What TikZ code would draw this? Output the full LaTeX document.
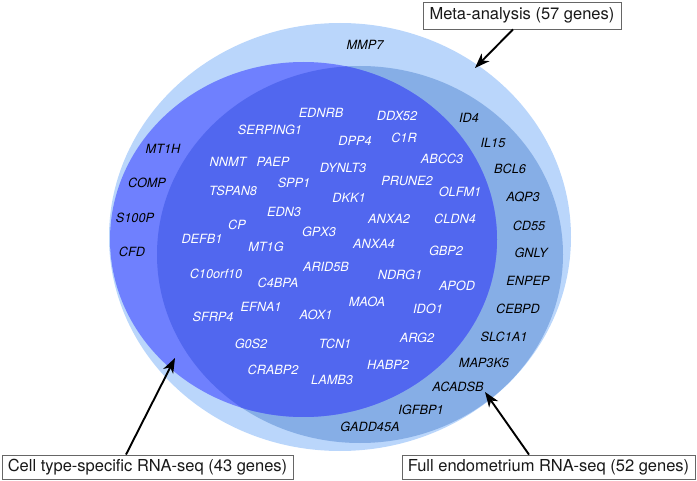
\documentclass[tikz,border=0pt]{standalone}
\usepackage{fontspec}
\setmainfont{TeX Gyre Heros}
\usetikzlibrary{arrows.meta}
\definecolor{lightb}{HTML}{BAD6FB}
\definecolor{medb}{HTML}{86AEE6}
\definecolor{purb}{HTML}{6F80FE}
\definecolor{darkb}{HTML}{5167EF}
\begin{document}
\begin{tikzpicture}[x=1pt,y=-1pt,
  gene/.style={font=\fontsize{12.7}{14}\selectfont\itshape, inner sep=0pt, text height=9.1pt, text depth=0pt},
  wg/.style={gene, text=white},
  kg/.style={gene, text=black},
  lab/.style={draw=black!60, line width=0.8pt, fill=white, font=\fontsize{16.5}{18}\selectfont, inner sep=0pt, text=black!90},
  arr/.style={-{Stealth[length=15pt,width=11pt,inset=4.5pt]}, line width=1.9pt}]
\useasboundingbox (0,0) rectangle (697,481);
% sets
\fill[lightb] (340,237) ellipse [x radius=231pt, y radius=214pt];
\fill[medb] (360,254.5) ellipse [x radius=203pt, y radius=188.5pt];
\fill[purb] (303.5,239.5) ellipse [x radius=193.5pt, y radius=177.5pt];
\begin{scope}
  \clip (360,254.5) ellipse [x radius=203pt, y radius=188.5pt];
  \fill[darkb] (303.5,239.5) ellipse [x radius=193.5pt, y radius=177.5pt];
\end{scope}
% black genes
\node[kg] (g1) at (365,45) {MMP7};
\node[kg] (g2) at (163,149) {MT1H};
\node[kg] (g3) at (147,183) {COMP};
\node[kg] (g4) at (135,218) {S100P};
\node[kg] (g5) at (132,252) {CFD};
\node[kg] (g6) at (469,118) {ID4};
\node[kg] (g7) at (493,143) {IL15};
\node[kg] (g8) at (510,169) {BCL6};
\node[kg] (g9) at (523,197) {AQP3};
\node[kg] (g10) at (529,226) {CD55};
\node[kg] (g11) at (531,253) {GNLY};
\node[kg] (g12) at (528,281) {ENPEP};
\node[kg] (g13) at (518,309) {CEBPD};
\node[kg] (g14) at (504,337) {SLC1A1};
\node[kg] (g15) at (484,363) {MAP3K5};
\node[kg] (g16) at (458,387) {ACADSB};
\node[kg] (g17) at (421,410) {IGFBP1};
\node[kg] (g18) at (370,427) {GADD45A};
% white genes
\node[wg] (w1) at (321,113) {EDNRB};
\node[wg] (w2) at (397,116) {DDX52};
\node[wg] (w3) at (270,130) {SERPING1};
\node[wg] (w4) at (404,138) {C1R};
\node[wg] (w5) at (355,141) {DPP4};
\node[wg] (w6) at (442,159) {ABCC3};
\node[wg] (w7) at (228,162) {NNMT};
\node[wg] (w8) at (273,162) {PAEP};
\node[wg] (w9) at (343,168) {DYNLT3};
\node[wg] (w10) at (407,181) {PRUNE2};
\node[wg] (w11) at (294,183) {SPP1};
\node[wg] (w12) at (233,191) {TSPAN8};
\node[wg] (w13) at (460,192) {OLFM1};
\node[wg] (w14) at (349,198) {DKK1};
\node[wg] (w15) at (284,212) {EDN3};
\node[wg] (w16) at (389,219) {ANXA2};
\node[wg] (w17) at (455,219) {CLDN4};
\node[wg] (w18) at (237,225) {CP};
\node[wg] (w19) at (319,232) {GPX3};
\node[wg] (w20) at (202,239) {DEFB1};
\node[wg] (w21) at (374,244) {ANXA4};
\node[wg] (w22) at (266,247) {MT1G};
\node[wg] (w23) at (446,251) {GBP2};
\node[wg] (w24) at (326,267) {ARID5B};
\node[wg] (w25) at (216,274) {C10orf10};
\node[wg] (w26) at (400,275) {NDRG1};
\node[wg] (w27) at (278,283) {C4BPA};
\node[wg] (w28) at (457,286) {APOD};
\node[wg] (w29) at (367,302) {MAOA};
\node[wg] (w30) at (261,307) {EFNA1};
\node[wg] (w31) at (428,309) {IDO1};
\node[wg] (w32) at (316,315) {AOX1};
\node[wg] (w33) at (213,317) {SFRP4};
\node[wg] (w34) at (417,338) {ARG2};
\node[wg] (w35) at (251,344) {G0S2};
\node[wg] (w36) at (335,344) {TCN1};
\node[wg] (w37) at (388,365) {HABP2};
\node[wg] (w38) at (273,370) {CRABP2};
\node[wg] (w39) at (332,380) {LAMB3};
% labels
\node[lab, minimum width=198pt, minimum height=27pt] (meta) at (522,15.5) {Meta-analysis (57 genes)};
\node[lab, minimum width=291pt, minimum height=24pt] (cell) at (147.5,467) {Cell type-specific RNA-seq (43 genes)};
\node[lab, minimum width=293pt, minimum height=24pt] (full) at (548.5,467) {Full endometrium RNA-seq (52 genes)};
\coordinate (mtip) at (475,68);
\coordinate (ctip) at (175,358);
\coordinate (ftip) at (485,392);
\draw[arr] ([xshift=-9pt]meta.south) -- (mtip);
\draw[arr] ([xshift=-21.5pt]cell.north) -- (ctip);
\draw[arr] ([xshift=-19.5pt]full.north) -- (ftip);
\end{tikzpicture}
\end{document}
